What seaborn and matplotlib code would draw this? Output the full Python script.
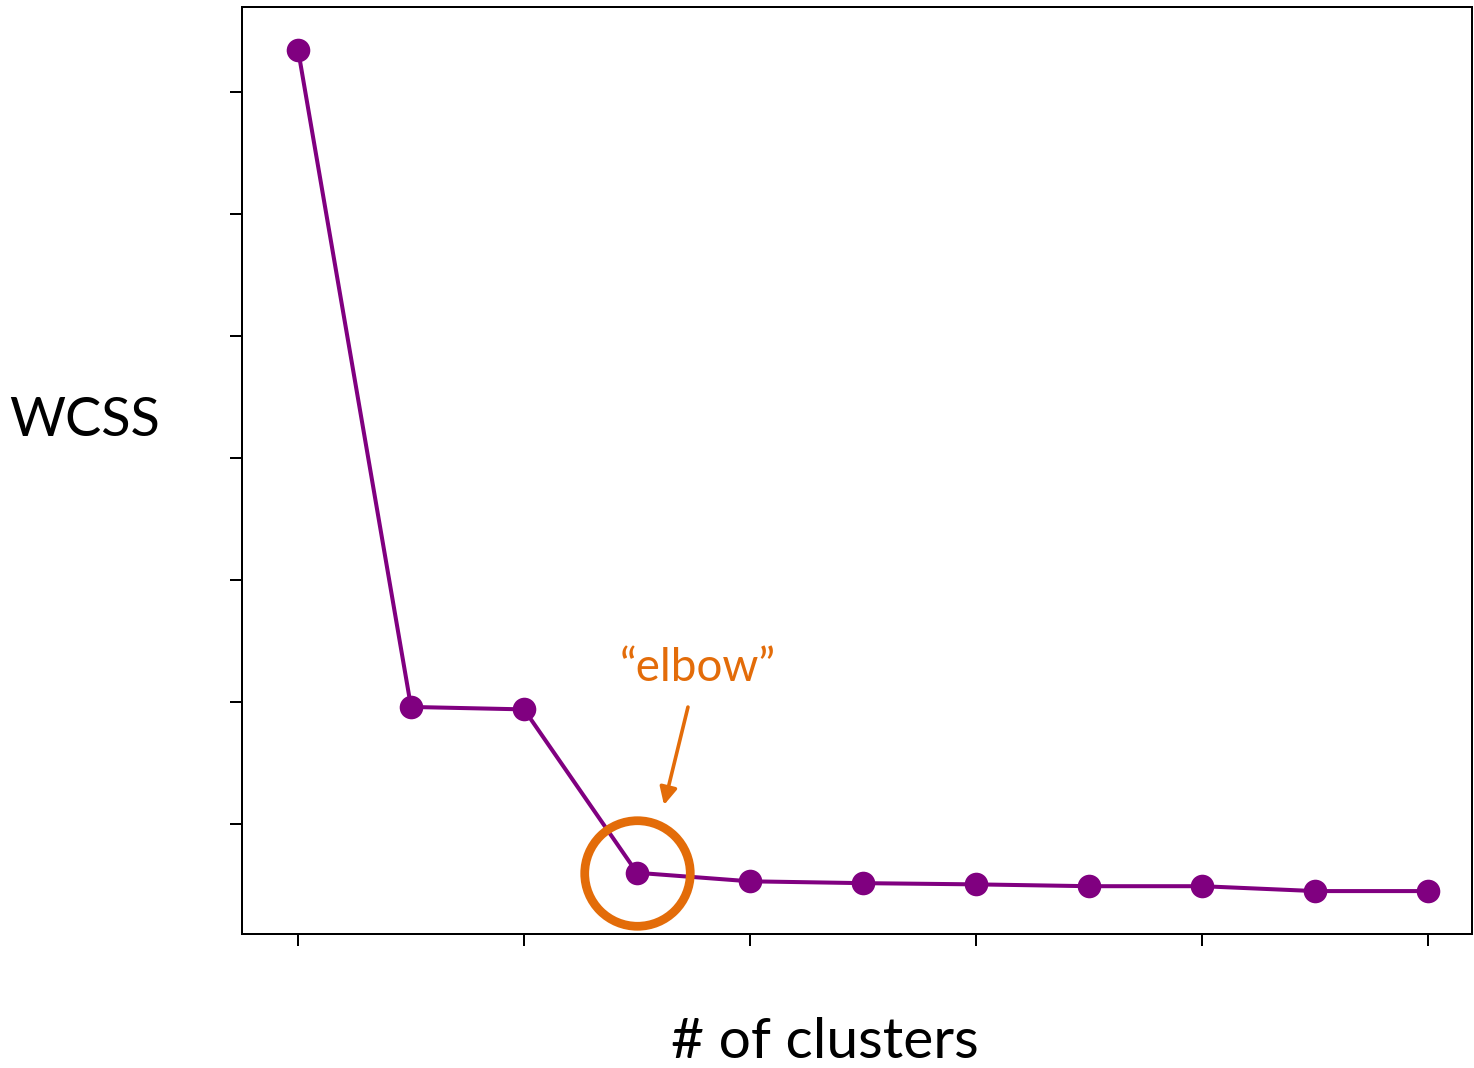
import matplotlib
matplotlib.use("Agg")
import matplotlib.pyplot as plt
import seaborn as sns
import pandas as pd

clusters = [1, 2, 3, 4, 5, 6, 7, 8, 9, 10, 11]
wcss = [7.35, 1.96, 1.94, 0.60, 0.53, 0.515, 0.505, 0.49, 0.49, 0.45, 0.45]
x_ticks = [1, 3, 5, 7, 9, 11]
y_ticks = [1, 2, 3, 4, 5, 6, 7]
elbow_k = 4

sns.set_theme(style="ticks")
plt.rcParams['font.family'] = ['Lato', 'DejaVu Sans']
plt.rcParams['text.color'] = 'black'

df = pd.DataFrame({"k": clusters, "wcss": wcss})

fig = plt.figure(figsize=(14.74, 10.68), dpi=100)
ax = fig.add_axes([242/1474, 1-934/1068, 1230/1474, 927/1068])

purple = "#800080"
orange = "#E36C09"

sns.lineplot(data=df, x="k", y="wcss", ax=ax, color=purple, linewidth=2.9,
             marker="o", markersize=17, markeredgewidth=0, markerfacecolor=purple)

# elbow circle
ev = wcss[clusters.index(elbow_k)]
ax.plot([elbow_k], [ev], marker="o", markersize=76, markerfacecolor="none",
        markeredgecolor=orange, markeredgewidth=6.3, linestyle="none")

ax.annotate("", xy=(4.239, 1.156), xytext=(4.451, 1.959),
            arrowprops=dict(arrowstyle="-|>", color=orange, lw=2.6,
                            mutation_scale=26, shrinkA=0, shrinkB=0))
ax.text(4.54, 2.279, "\u201celbow\u201d", color=orange, fontsize=33,
        ha="center", va="center")

ax.set_xlim(0.504, 11.39)
ax.set_ylim(0.098, 7.70)
ax.set_xticks(x_ticks)
ax.set_yticks(y_ticks)
ax.set_xticklabels([])
ax.set_yticklabels([])
ax.tick_params(length=8.6, width=1.44, color="black", direction="out")
for s in ax.spines.values():
    s.set_linewidth(1.44)
    s.set_color("black")
    s.set_visible(True)

ax.set_xlabel("")
ax.set_ylabel("")
fig.text(85/1474, 1-420/1068, "WCSS", fontsize=39, ha="center", va="center", color="black")
fig.text(825/1474, 1-1043/1068, "# of clusters", fontsize=41, ha="center", va="center", color="black")

fig.savefig("out.png", dpi=100)
